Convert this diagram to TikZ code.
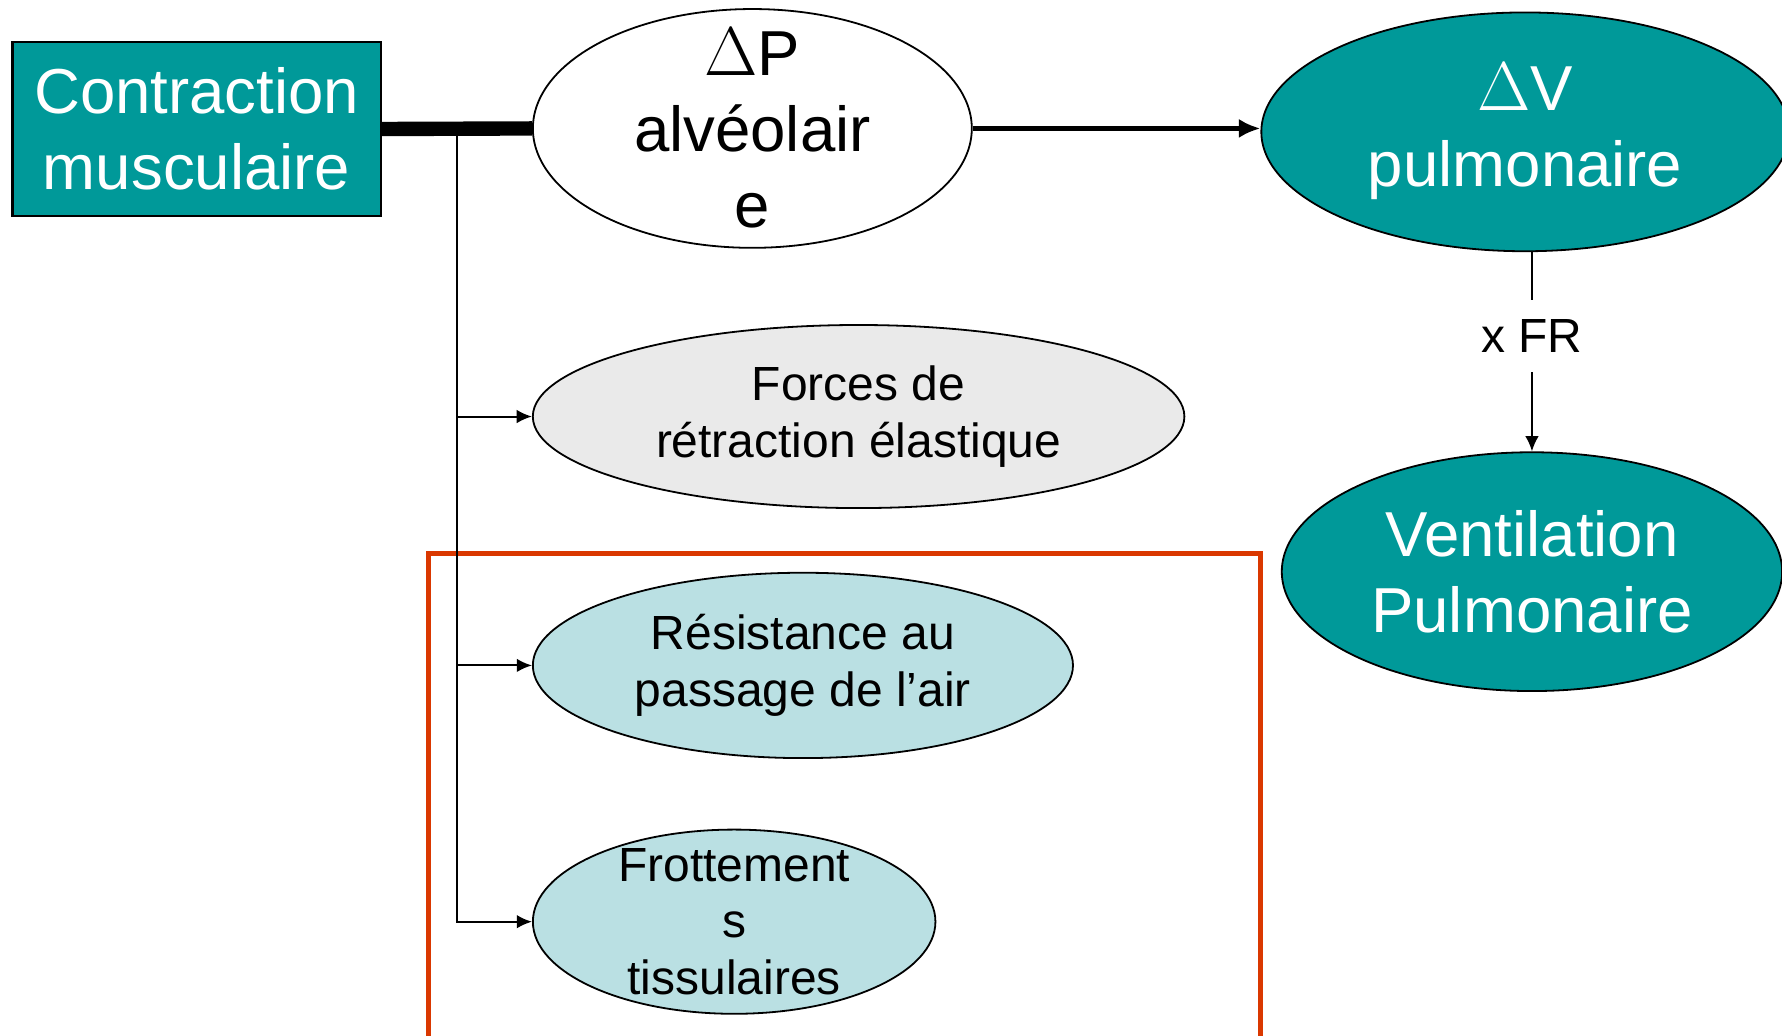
\documentclass[tikz,border=0pt]{standalone}
\usepackage{fontspec}
\setmainfont{Liberation Sans}
\usepackage{amsmath}
\usetikzlibrary{arrows.meta,shapes.geometric}

\definecolor{teal}{RGB}{0,153,153}
\definecolor{paleblue}{RGB}{186,224,227}
\definecolor{palegrey}{RGB}{234,234,234}
\definecolor{boxred}{RGB}{218,56,0}

\tikzset{
  bigtext/.style={font=\fontsize{15.9}{19}\selectfont, align=center},
  smalltext/.style={font=\fontsize{12}{14.2}\selectfont, align=center},
  oval/.style={ellipse, draw, line width=0.45pt, inner sep=-2cm},
  thinarrow/.style={line width=0.5pt, -{Latex[length=3.8pt, width=3.4pt]}},
}

\begin{document}
\begin{tikzpicture}[x=0.01cm, y=-0.01cm]
\useasboundingbox (0,0) rectangle (1568,911);
\fill [white] (0,0) rectangle (1568,911);
\draw [boxred, line width=1.1pt] (377,960) -- (377,487) -- (1109,487) -- (1109,960); % ...
\node [draw, fill=teal, text=white, bigtext, line width=0.6pt, minimum width=3.24cm, minimum height=1.53cm, inner sep=0] (contr) at (173,113.5) {Contraction\\musculaire};
\node [oval, fill=white, bigtext, minimum width=3.86cm, minimum height=2.1cm] (dp) at (662,113) {$\Delta$P\\alvéolair\\e};
\node [oval, fill=teal, text=white, bigtext, minimum width=4.64cm, minimum height=2.1cm] (dv) at (1342,116) {$\Delta$V\\pulmonaire};
\node [oval, fill=teal, text=white, bigtext, minimum width=4.4cm, minimum height=2.1cm] (vent) at (1348,503) {Ventilation\\Pulmonaire};
\node [oval, fill=palegrey, smalltext, minimum width=5.73cm, minimum height=1.61cm] (forces) at (755.5,366.5) {Forces de\\rétraction élastique};
\node [oval, fill=paleblue, smalltext, minimum width=4.75cm, minimum height=1.63cm] (resist) at (706.5,585.5) {Résistance au\\passage de l’air};
\node [oval, fill=paleblue, smalltext, minimum width=3.54cm, minimum height=1.62cm] (frott) at (646,811) {Frottement\\s\\tissulaires};
\coordinate (trunk) at (402,113);
\draw [line width=3.6pt] (contr.east) -- (dp.west);
\draw [line width=1.4pt, -{Latex[length=5.4pt, width=4.8pt]}] (dp.east) -- (dv.west |- dp.east);
\draw [line width=0.6pt] (trunk) -- (trunk |- frott);
\draw [thinarrow] (trunk) |- (forces);
\draw [thinarrow] (trunk) |- (resist);
\draw [thinarrow] (trunk) |- (frott);
\draw [thinarrow] (vent.north |- dv.south) -- node[pos=0.42, fill=white, smalltext, inner ysep=0.17cm]{x FR} (vent.north);
\end{tikzpicture}
\end{document}
